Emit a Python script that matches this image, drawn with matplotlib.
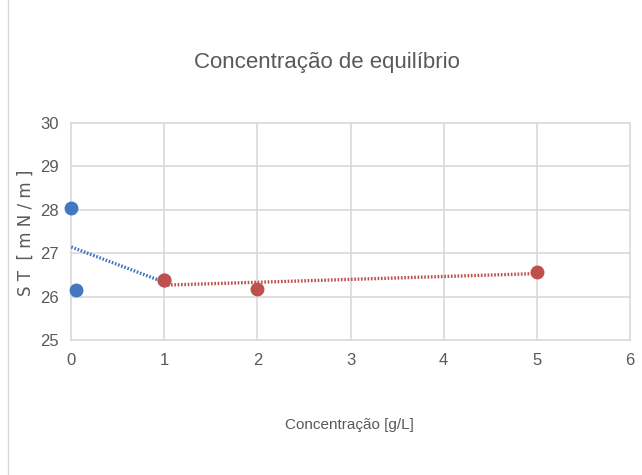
import numpy as np
import matplotlib.pyplot as plt
from matplotlib.patches import Rectangle

# Data
blue_x = [0.0, 0.05, 1.0]
blue_y = [28.05, 26.15, 26.38]
red_x = [1.0, 2.0, 5.0]
red_y = [26.38, 26.18, 26.57]

title = 'Concentração de equilíbrio'
xlabel = 'Concentração [g/L]'
ylabel = 'S T  [ m N / m ]'

plt.rcParams['font.family'] = ['Liberation Sans', 'DejaVu Sans']
gray = '#595959'
blue = '#4178C0'
red = '#C0504D'

fig = plt.figure(figsize=(6.42, 4.75), dpi=100)
ax = fig.add_axes([0.111, 0.284, 0.870, 0.457])

# linear trendlines
bfit = np.polyfit(blue_x, blue_y, 1)
rfit = np.polyfit(red_x, red_y, 1)
bx = np.array([min(blue_x), max(blue_x)])
rx = np.array([min(red_x), max(red_x)])
ax.plot(bx, np.polyval(bfit, bx), color=blue, lw=2.4, ls=(0, (0.5, 0.5)), zorder=3)
ax.plot(rx, np.polyval(rfit, rx), color=red, lw=2.4, ls=(0, (0.5, 0.5)), zorder=3)

ax.plot(blue_x, blue_y, 'o', color=blue, ms=9, zorder=4, clip_on=False)
ax.plot(red_x, red_y, 'o', color=red, ms=9, zorder=5)

ax.set_xlim(0, 6)
ax.set_ylim(25, 30)
ax.set_xticks(range(0, 7))
ax.set_yticks(range(25, 31))
ax.grid(True, color='#D9D9D9', lw=1.2)
ax.set_axisbelow(True)
for ln in ax.get_xgridlines() + ax.get_ygridlines():
    ln.set_clip_on(False)
for s in ax.spines.values():
    s.set_visible(False)
ax.tick_params(length=0, colors=gray, labelsize=12, pad=9)

fig.text(0.51, 0.868, title, ha='center', va='center', fontsize=16, color=gray)
fig.text(0.545, 0.105, xlabel, ha='center', va='center', fontsize=11, color=gray)
fig.text(0.040, 0.51, ylabel, ha='center', va='center', fontsize=12, color=gray,
         rotation=90, family='DejaVu Sans')

fig.patches.append(Rectangle((0.013, -0.01), 0.99, 1.02, transform=fig.transFigure,
                             fill=False, edgecolor='#D9D9D9', lw=1))

fig.savefig('out.png', dpi=100)
